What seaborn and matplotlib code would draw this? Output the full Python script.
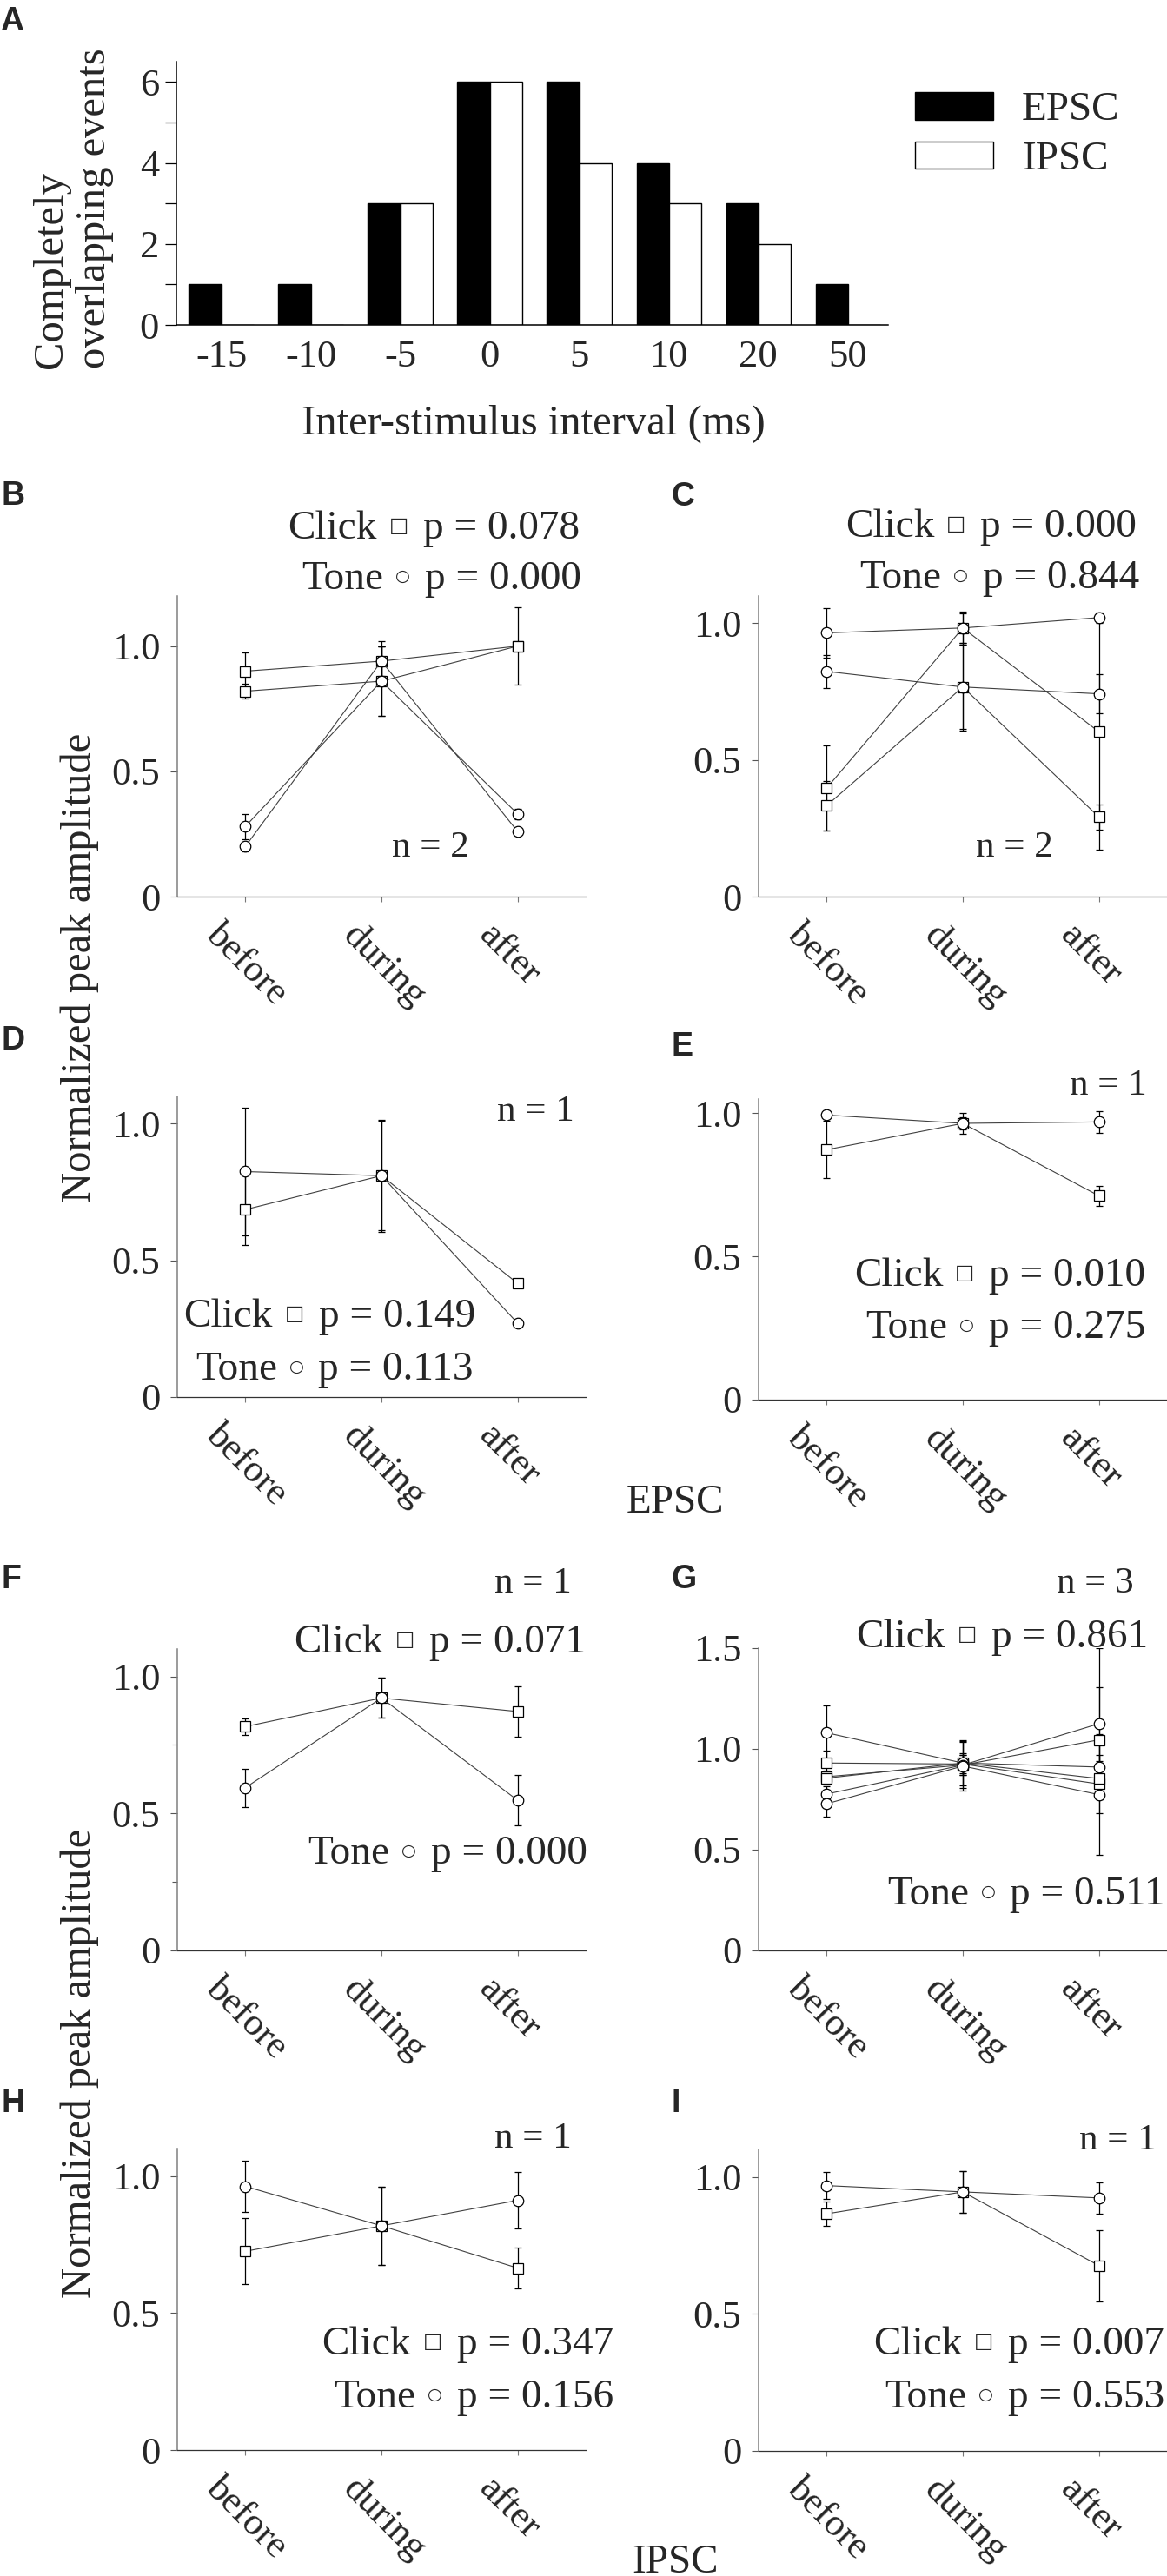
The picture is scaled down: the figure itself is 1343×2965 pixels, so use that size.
import numpy as np
import pandas as pd
import matplotlib
matplotlib.use("Agg")
import matplotlib.pyplot as plt
import matplotlib.transforms as mtransforms
from matplotlib.text import Annotation
import seaborn as sns

# ---- panel A: overlapping events per inter-stimulus interval
isi_labels = ["-15", "-10", "-5", "0", "5", "10", "20", "50"]
epsc_counts = [1, 1, 3, 6, 6, 4, 3, 1]
ipsc_counts = [0, 0, 3, 6, 4, 3, 2, 0]

# ---- panels B-I: normalized peak amplitude (mean, error) per cell
phases = ["before", "during", "after"]

b_click = [[0.90, 0.94, 1.00], [0.82, 0.86, 1.00]]
b_click_err = [[0.075, 0.08, 0.155], [0.03, 0.14, 0.01]]
b_tone = [[0.28, 0.86, 0.33], [0.20, 0.94, 0.26]]
b_tone_err = [[0.05, 0.14, 0.02], [0.02, 0.06, 0.015]]

c_click = [[0.397, 0.983, 0.603], [0.333, 0.767, 0.291]]
c_click_err = [[0.155, 0.055, 0.43], [0.09, 0.16, 0.045]]
c_tone = [[0.965, 0.983, 1.021], [0.824, 0.767, 0.742]]
c_tone_err = [[0.09, 0.06, 0.02], [0.06, 0.155, 0.072]]

d_click = [[0.686, 0.81, 0.416]]
d_click_err = [[0.13, 0.2, 0.005]]
d_tone = [[0.825, 0.81, 0.27]]
d_tone_err = [[0.233, 0.205, 0.005]]

e_click = [[0.873, 0.965, 0.712]]
e_click_err = [[0.1, 0.036, 0.035]]
e_tone = [[0.994, 0.965, 0.970]]
e_tone_err = [[0.01, 0.02, 0.037]]

f_click = [[0.817, 0.921, 0.872]]
f_click_err = [[0.03, 0.073, 0.092]]
f_tone = [[0.594, 0.921, 0.548]]
f_tone_err = [[0.07, 0.073, 0.093]]

g_click = [[0.93, 0.925, 0.826], [0.862, 0.92, 1.045], [0.855, 0.93, 0.853]]
g_click_err = [[0.06, 0.12, 0.143], [0.03, 0.05, 0.26], [0.03, 0.05, 0.02]]
g_tone = [[1.08, 0.93, 0.91], [0.776, 0.92, 1.125], [0.728, 0.915, 0.773]]
g_tone_err = [[0.136, 0.11, 0.03], [0.04, 0.05, 0.375], [0.063, 0.12, 0.3]]

h_click = [[0.725, 0.818, 0.664]]
h_click_err = [[0.12, 0.142, 0.074]]
h_tone = [[0.962, 0.818, 0.911]]
h_tone_err = [[0.093, 0.142, 0.104]]

i_click = [[0.865, 0.945, 0.676]]
i_click_err = [[0.045, 0.077, 0.13]]
i_tone = [[0.968, 0.945, 0.923]]
i_tone_err = [[0.049, 0.077, 0.057]]

click_p = [0.078, 0.000, 0.149, 0.010, 0.071, 0.861, 0.347, 0.007]
tone_p = [0.000, 0.844, 0.113, 0.275, 0.000, 0.511, 0.156, 0.553]
n_cells = [2, 2, 1, 1, 1, 3, 1, 1]

W, H = 1343, 2965
sns.set_style("ticks")
plt.rcParams["font.family"] = ["Liberation Serif", "DejaVu Sans"]

fig = plt.figure(figsize=(W / 100, H / 100), dpi=100)


def px_axes(l, t, r, b):
    return fig.add_axes([l / W, 1 - b / H, (r - l) / W, (b - t) / H])


def ftext(x, y, s, **kw):
    return fig.text(x / W, 1 - y / H, s, **kw)


def stat_line(xr, yb, name, sym, sym_size, p):
    # "Click □  p = 0.078", laid out right to left
    tp = ftext(xr, yb, f"p = {p:.3f}", ha="right", va="baseline", fontsize=34)
    ts = Annotation(sym, xy=(0, 0.58), xycoords=tp, xytext=(-12, 0),
                    textcoords="offset points", ha="right", va="center",
                    fontsize=sym_size, family="DejaVu Sans")
    fig.add_artist(ts)
    tn = Annotation(name, xy=(0, 0), xycoords=(ts, tp), xytext=(-10, 0),
                    textcoords="offset points", ha="right", va="bottom", fontsize=34)
    fig.add_artist(tn)


def series_frame(click, click_err, tone, tone_err):
    rows = []
    for stim, vals, errs in (("Click", click, click_err), ("Tone", tone, tone_err)):
        for k, (v, e) in enumerate(zip(vals, errs)):
            for ph, vi, ei in zip(phases, v, e):
                rows.append({"phase": ph, "amp": vi, "err": ei,
                             "stim": stim, "cell": f"{stim}{k}"})
    return pd.DataFrame(rows)


# ---------------- panel A
axA = px_axes(203, 71, 1022, 374)
dfa = pd.DataFrame({"isi": isi_labels * 2,
                    "count": epsc_counts + ipsc_counts,
                    "type": ["EPSC"] * len(isi_labels) + ["IPSC"] * len(isi_labels)})
sns.barplot(data=dfa, x="isi", y="count", hue="type", order=isi_labels,
            hue_order=["EPSC", "IPSC"], palette={"EPSC": "black", "IPSC": "white"},
            edgecolor="black", linewidth=1, width=0.72, saturation=1, ax=axA)
handles, labels = axA.get_legend_handles_labels()
axA.legend(handles, labels, loc="upper left", bbox_to_anchor=(1053 / W, 1 - 106 / H),
           bbox_transform=fig.transFigure, frameon=False, fontsize=34,
           handlelength=1.9, handleheight=0.64, handletextpad=0.7,
           labelspacing=0.3, borderpad=0, borderaxespad=0)
axA.set_xlim(-0.5, 7.45)
axA.set_ylim(0, 6.5)
axA.set_yticks(range(7), ["0", "", "2", "", "4", "", "6"])
axA.set_xlabel("")
axA.set_ylabel("")
sns.despine(ax=axA)
for s in ("left", "bottom"):
    axA.spines[s].set_color("black")
    axA.spines[s].set_linewidth(1.1)
axA.tick_params(axis="y", length=9.4, width=0.9, pad=5, labelsize=32, color="black")
axA.tick_params(axis="x", length=0, pad=12, labelsize=32)
ftext(0, 7, "A", ha="left", va="top", fontsize=27, family="Liberation Sans", weight="bold")
ftext(614, 500, "Inter-stimulus interval (ms)", ha="center", va="baseline", fontsize=35)
ftext(84, 240, "Completely\noverlapping events", rotation=90, ha="center",
      va="center", multialignment="left", fontsize=35, linespacing=1.2)

# ---------------- panels B-I
panels = [
    ("B", (204, 686, 674, 1032), 1.2, b_click, b_click_err, b_tone, b_tone_err,
     (2, 553), (540, 986), (667, 620), (669, 678)),
    ("C", (873, 686, 1343, 1032), 1.1, c_click, c_click_err, c_tone, c_tone_err,
     (772, 554), (1212, 986), (1308, 618), (1311, 677)),
    ("D", (204, 1262, 674, 1608), 1.1, d_click, d_click_err, d_tone, d_tone_err,
     (2, 1180), (661, 1290), (547, 1527), (545, 1588)),
    ("E", (873, 1265, 1343, 1611), 1.05, e_click, e_click_err, e_tone, e_tone_err,
     (772, 1187), (1320, 1260), (1318, 1480), (1318, 1540)),
    ("F", (204, 1898, 674, 2245), 1.1, f_click, f_click_err, f_tone, f_tone_err,
     (2, 1800), (658, 1833), (674, 1902), (676, 2145)),
    ("G", (873, 1897, 1343, 2245), 1.5, g_click, g_click_err, g_tone, g_tone_err,
     (773, 1800), (1305, 1833), (1321, 1896), (1341, 2192)),
    ("H", (204, 2473, 674, 2820), 1.1, h_click, h_click_err, h_tone, h_tone_err,
     (2, 2403), (658, 2472), (706, 2710), (706, 2771)),
    ("I", (873, 2474, 1343, 2821), 1.1, i_click, i_click_err, i_tone, i_tone_err,
     (773, 2403), (1331, 2474), (1340, 2710), (1340, 2771)),
]

shift = mtransforms.ScaledTranslation(-0.24, 0, fig.dpi_scale_trans)

for k, (letter, box, ytop, ck, cke, tn, tne, lpos, npos, cpos, tpos) in enumerate(panels):
    ax = px_axes(*box)
    df = series_frame(ck, cke, tn, tne)
    sns.lineplot(data=df, x="phase", y="amp", units="cell", estimator=None,
                 style="stim", markers={"Click": "s", "Tone": "o"}, dashes=False,
                 sort=False, color="#404040", linewidth=0.8, markersize=9,
                 markerfacecolor="white", markeredgecolor="black",
                 markeredgewidth=0.9, legend=False, ax=ax, zorder=3)
    ax.errorbar(df["phase"], df["amp"], yerr=df["err"], fmt="none", ecolor="black",
                elinewidth=0.9, capsize=3, capthick=0.9, zorder=2)
    ax.set_xlim(-0.5, 2.5)
    ax.set_ylim(0, ytop)
    yt = [0, 0.5, 1.0, 1.5] if ytop >= 1.5 else [0, 0.5, 1.0]
    ax.set_yticks(yt, ["0" if t == 0 else f"{t:.1f}" for t in yt])
    if letter == "F":
        ax.set_yticks([0.25, 0.75], minor=True)
        ax.tick_params(axis="y", which="minor", length=4, width=0.8, color="#555555")
    ax.set_xlabel("")
    ax.set_ylabel("")
    sns.despine(ax=ax)
    ax.spines["left"].set_color("#808080")
    ax.spines["left"].set_linewidth(1.1)
    ax.spines["bottom"].set_color("#333333")
    ax.spines["bottom"].set_linewidth(0.9)
    ax.tick_params(axis="y", length=5.8, width=0.8, pad=8.5, labelsize=32, color="#555555")
    ax.tick_params(axis="x", length=4.3, width=0.8, pad=13, labelsize=32, color="#777777")
    ax.set_xticks(range(3), phases)
    for lbl in ax.get_xticklabels():
        lbl.set_rotation(-45)
        lbl.set_ha("left")
        lbl.set_va("top")
        lbl.set_rotation_mode("anchor")
        lbl.set_transform(lbl.get_transform() + shift)

    ftext(lpos[0], lpos[1], letter, ha="left", va="top", fontsize=27,
          family="Liberation Sans", weight="bold")
    ftext(npos[0], npos[1], f"n = {n_cells[k]}", ha="right", va="baseline", fontsize=31)
    stat_line(cpos[0], cpos[1], "Click", "\u25a1", 17, click_p[k])
    stat_line(tpos[0], tpos[1], "Tone", "\u25cb", 14, tone_p[k])

ftext(92, 1114, "Normalized peak amplitude", rotation=90, ha="center", va="center", fontsize=35)
ftext(92, 2375, "Normalized peak amplitude", rotation=90, ha="center", va="center", fontsize=35)
ftext(777, 1741, "EPSC", ha="center", va="baseline", fontsize=34)
ftext(777, 2961, "IPSC", ha="center", va="baseline", fontsize=34)

fig.savefig("out.png", dpi=100)
